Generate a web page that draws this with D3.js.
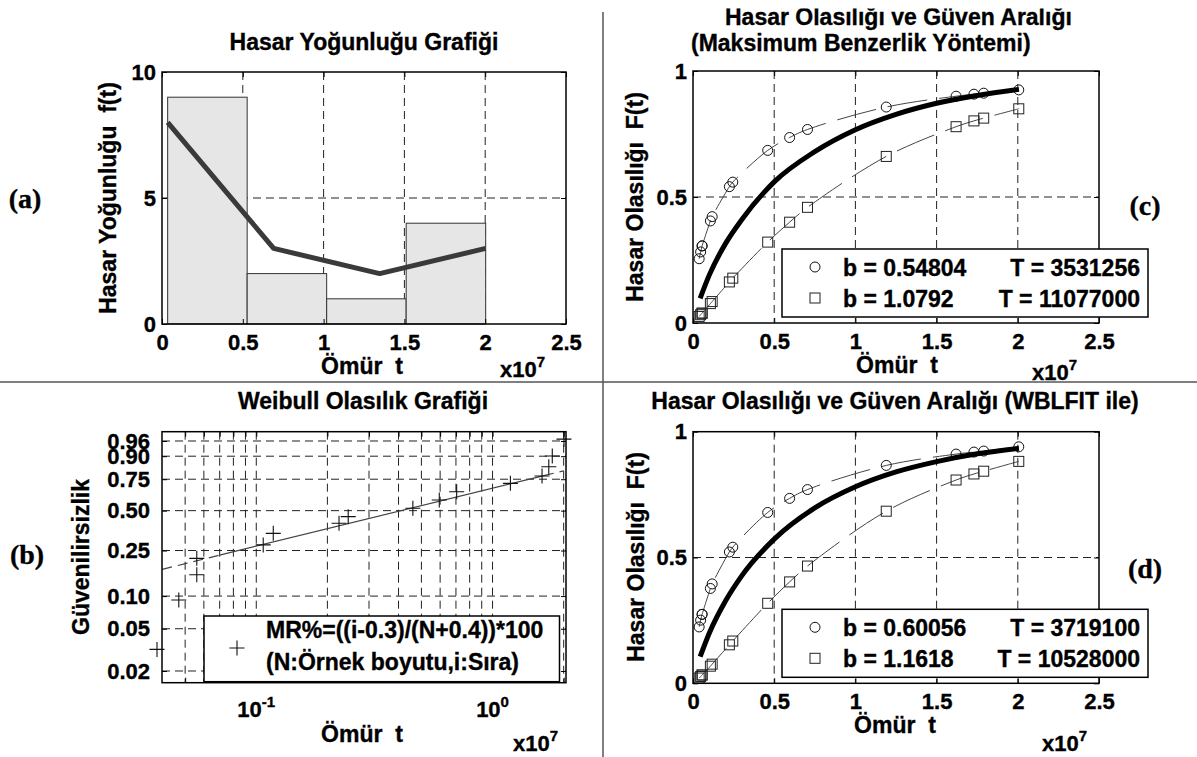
<!DOCTYPE html>
<html lang="tr">
<head>
<meta charset="utf-8">
<title>Hasar analizi</title>
<script src="https://cdnjs.cloudflare.com/ajax/libs/d3/7.8.5/d3.min.js"></script>
<style>
  body { margin: 0; background: #fff; }
  svg text {
    font-family: "Liberation Sans", Arial, Helvetica, sans-serif;
    font-weight: bold;
    fill: #000;
    stroke: #000;
    stroke-width: 0.35px;
  }
  .grid { stroke: #222; stroke-width: 1; stroke-dasharray: 8,5; fill: none; }
  .frame { fill: none; stroke: #000; stroke-width: 1.5; }
  .plabel { font-family: "Liberation Serif", "Times New Roman", serif !important; font-size: 28px; }
  .sep { stroke: #555; stroke-width: 1.5; }
</style>
</head>
<body>
<svg id="chart" width="1197" height="757"></svg>
<script>
// ---- data (times in units of 1e7) ----
var xTicks = [0, 0.5, 1, 1.5, 2, 2.5];
var xTickLabels = ["0", "0.5", "1", "1.5", "2", "2.5"];

// (a) histogram + density polyline
var histEdges = [0.035, 0.527, 1.019, 1.511, 2.003];
var histCounts = [9, 2, 1, 4];
var densX = [0.035, 0.691, 1.347, 2.003];
var densY = [8, 3, 2, 3];
var yTicksA = [0, 5, 10];

// sorted failure times
var failTimes = [0.038, 0.047, 0.056, 0.056, 0.107, 0.118, 0.224, 0.245, 0.46, 0.595, 0.705, 1.19, 1.62, 1.73, 1.79, 2.006];

// (b) weibull probability plot
var medianRanks = [0.032, 0.092, 0.155, 0.215, 0.278, 0.343, 0.408, 0.455, 0.518, 0.584, 0.651, 0.718, 0.774, 0.839, 0.901, 0.965];
var fitLineT = [0.04, 0.07, 1.65, 2.0];
var fitLineF = [0.173, 0.229, 0.777, 0.811];
var yTicksB = [0.02, 0.05, 0.10, 0.25, 0.50, 0.75, 0.90, 0.96];
var yTickLabelsB = ["0.02", "0.05", "0.10", "0.25", "0.50", "0.75", "0.90", "0.96"];
var xMinorB = [0.05, 0.06, 0.07, 0.08, 0.09, 0.2, 0.3, 0.4, 0.5, 0.6, 0.7, 0.8, 0.9, 2];
var xMajorB = [0.1, 1];
var xMajorLabelsB = [["10", "-1"], ["10", "0"]];

// (c) maximum likelihood
var fitT = [0.044, 0.1, 0.2, 0.3, 0.5, 0.75, 1.0, 1.25, 1.5, 1.75, 2.007];
var fitC = [0.098, 0.19, 0.315, 0.41, 0.56, 0.68, 0.767, 0.828, 0.872, 0.903, 0.927];
var upperC = [0.255, 0.282, 0.306, 0.306, 0.405, 0.422, 0.541, 0.559, 0.685, 0.736, 0.768, 0.857, 0.900, 0.908, 0.912, 0.925];
var lowerC = [0.026, 0.033, 0.039, 0.039, 0.077, 0.085, 0.163, 0.178, 0.321, 0.400, 0.459, 0.661, 0.779, 0.802, 0.813, 0.850];
var legendC = [["b = 0.54804", "T = 3531256"], ["b = 1.0792", "T = 11077000"]];

// (d) wblfit
var fitD = [0.106, 0.199, 0.327, 0.427, 0.573, 0.697, 0.781, 0.840, 0.881, 0.912, 0.934];
var upperD = [0.224, 0.251, 0.274, 0.274, 0.377, 0.395, 0.522, 0.541, 0.679, 0.735, 0.770, 0.866, 0.911, 0.919, 0.923, 0.940];
var lowerD = [0.021, 0.027, 0.033, 0.033, 0.068, 0.076, 0.153, 0.168, 0.318, 0.403, 0.466, 0.684, 0.808, 0.832, 0.843, 0.882];
var legendD = [["b = 0.60056", "T = 3719100"], ["b = 1.1618", "T = 10528000"]];
var yTicksCD = [0, 0.5, 1];

// ---- layout ----
var boxA = {x0: 162, x1: 566, y0: 72, y1: 324};
var boxB = {x0: 162, x1: 566, y0: 431.7, y1: 682.7};
var boxC = {x0: 693, x1: 1099, y0: 71, y1: 323};
var boxD = {x0: 693, x1: 1099, y0: 431.7, y1: 683.3};

var svg = d3.select("#chart");
svg.append("rect").attr("width", 1197).attr("height", 757).attr("fill", "#fff");

// separators
svg.append("line").attr("class", "sep").attr("x1", 603).attr("x2", 603).attr("y1", 12).attr("y2", 757);
svg.append("line").attr("class", "sep").attr("x1", 0).attr("x2", 1197).attr("y1", 382).attr("y2", 382);

function addText(x, y, str, size, anchor) {
  return svg.append("text").attr("x", x).attr("y", y)
    .attr("text-anchor", anchor || "middle")
    .style("font-size", size + "px").style("white-space", "pre").text(str);
}
function addYLabel(x, y, str) {
  return svg.append("text").attr("transform", "translate(" + x + "," + y + ") rotate(-90)")
    .attr("text-anchor", "middle").style("font-size", "23px").style("white-space", "pre").text(str);
}
function addExp(x, y, base, sup, anchor) {
  var t = svg.append("text").attr("x", x).attr("y", y)
    .attr("text-anchor", anchor || "start").style("font-size", "22px");
  t.append("tspan").text(base);
  t.append("tspan").attr("dy", -10).style("font-size", "15px").text(sup);
  return t;
}
function styleAxis(sel) {
  sel.select(".domain").remove();
  sel.selectAll(".tick line").attr("stroke", "#000");
  sel.selectAll("text").style("font-size", "22px");
}
function boxAxes(b, x, y, xt, yt, xf, yf, xpad, ypad) {
  svg.append("g").attr("transform", "translate(0," + b.y1 + ")")
    .call(d3.axisBottom(x).tickValues(xt).tickFormat(xf).tickSizeInner(-5).tickSizeOuter(0).tickPadding(xpad))
    .call(styleAxis);
  svg.append("g").attr("transform", "translate(0," + b.y0 + ")")
    .call(d3.axisTop(x).tickValues(xt).tickFormat("").tickSizeInner(-5).tickSizeOuter(0))
    .call(styleAxis);
  svg.append("g").attr("transform", "translate(" + b.x0 + ",0)")
    .call(d3.axisLeft(y).tickValues(yt).tickFormat(yf).tickSizeInner(-5).tickSizeOuter(0).tickPadding(ypad))
    .call(styleAxis);
  svg.append("g").attr("transform", "translate(" + b.x1 + ",0)")
    .call(d3.axisRight(y).tickValues(yt).tickFormat("").tickSizeInner(-5).tickSizeOuter(0))
    .call(styleAxis);
}
function frame(b) {
  svg.append("rect").attr("class", "frame").attr("x", b.x0).attr("y", b.y0)
    .attr("width", b.x1 - b.x0).attr("height", b.y1 - b.y0);
}
function vgrid(b, x, vals) {
  svg.append("g").selectAll("line").data(vals).enter().append("line").attr("class", "grid")
    .attr("x1", function(d) { return x(d); }).attr("x2", function(d) { return x(d); })
    .attr("y1", b.y0).attr("y2", b.y1);
}
function hgrid(b, y, vals) {
  svg.append("g").selectAll("line").data(vals).enter().append("line").attr("class", "grid")
    .attr("y1", function(d) { return y(d); }).attr("y2", function(d) { return y(d); })
    .attr("x1", b.x0).attr("x2", b.x1);
}

// ================= (a) =================
var xA = d3.scaleLinear().domain([0, 2.5]).range([boxA.x0, boxA.x1]);
var yA = d3.scaleLinear().domain([0, 10]).range([boxA.y1, boxA.y0]);

vgrid(boxA, xA, [0.5, 1, 1.5, 2]);
hgrid(boxA, yA, [5]);

svg.append("g").selectAll("rect").data(histCounts).enter().append("rect")
  .attr("x", function(d, i) { return xA(histEdges[i]); })
  .attr("width", function(d, i) { return xA(histEdges[i + 1]) - xA(histEdges[i]); })
  .attr("y", function(d) { return yA(d); })
  .attr("height", function(d) { return yA(0) - yA(d); })
  .attr("fill", "#e6e6e6").attr("stroke", "#333").attr("stroke-width", 1);

svg.append("path").datum(densY)
  .attr("d", d3.line().x(function(d, i) { return xA(densX[i]); }).y(function(d) { return yA(d); }))
  .attr("fill", "none").attr("stroke", "#3a3a3a").attr("stroke-width", 5).attr("stroke-linejoin", "round");

boxAxes(boxA, xA, yA, xTicks, yTicksA, function(d, i) { return xTickLabels[i]; }, function(d) { return d; }, 10, 6);
frame(boxA);

addText(364, 50, "Hasar Yoğunluğu Grafiği", 23);
addYLabel(116, 198, "Hasar Yoğunluğu  f(t)");
addText(362, 374, "Ömür  t", 23);
addExp(500, 377, "x10", "7");
addText(25, 208, "(a)", 28).attr("class", "plabel");

// ================= (b) =================
var xB = d3.scaleLog().domain([0.0399, 2.046]).range([boxB.x0, boxB.x1]);
var wB = d3.scaleLinear().domain([-4.16, 1.374]).range([boxB.y1, boxB.y0]);
function wbl(F) { return Math.log(-Math.log(1 - F)); }
function yB(F) { return wB(wbl(F)); }

vgrid(boxB, xB, xMinorB.concat(xMajorB));
svg.append("g").selectAll("line").data(yTicksB).enter().append("line").attr("class", "grid")
  .attr("y1", function(d) { return yB(d); }).attr("y2", function(d) { return yB(d); })
  .attr("x1", boxB.x0).attr("x2", boxB.x1);

// fitted line: dashed tails, solid middle
var fitPts = fitLineF.map(function(f, i) { return [xB(fitLineT[i]), yB(f)]; });
svg.append("path").attr("d", d3.line()([fitPts[0], fitPts[1]]))
  .attr("stroke", "#444").attr("stroke-width", 1.2).attr("stroke-dasharray", "10,6").attr("fill", "none");
svg.append("path").attr("d", d3.line()([fitPts[1], fitPts[2]]))
  .attr("stroke", "#444").attr("stroke-width", 1.2).attr("fill", "none");
svg.append("path").attr("d", d3.line()([fitPts[2], fitPts[3]]))
  .attr("stroke", "#444").attr("stroke-width", 1.2).attr("stroke-dasharray", "10,6").attr("fill", "none");

function plus(g, cx, cy) {
  g.append("path").attr("d", "M" + (cx - 7.5) + "," + cy + "H" + (cx + 7.5) + "M" + cx + "," + (cy - 7.5) + "V" + (cy + 7.5))
    .attr("stroke", "#111").attr("stroke-width", 1.1).attr("fill", "none");
}
var gB = svg.append("g");
medianRanks.forEach(function(f, i) { plus(gB, xB(failTimes[i]), yB(f)); });

boxAxes(boxB, xB, wB, xMinorB.concat(xMajorB), yTicksB.map(wbl), "", function(d, i) { return yTickLabelsB[i]; }, 10, 12);
xMajorB.forEach(function(v, i) {
  addExp(xB(v), 716.7, xMajorLabelsB[i][0], xMajorLabelsB[i][1], "middle");
});

// legend (b)
svg.append("rect").attr("x", 204).attr("y", 616).attr("width", 355.5).attr("height", 65.7)
  .attr("fill", "#fff").attr("stroke", "#000").attr("stroke-width", 1.5);
plus(svg, 237, 648);
addText(266, 638, "MR%=((i-0.3)/(N+0.4))*100", 23, "start");
addText(266, 670, "(N:Örnek boyutu,i:Sıra)", 23, "start");

frame(boxB);
addText(363, 409, "Weibull Olasılık Grafiği", 23);
addYLabel(89, 557, "Güvenilirsizlik");
addText(362, 742, "Ömür  t", 23);
addExp(513, 751, "x10", "7");
addText(27, 564, "(b)", 28).attr("class", "plabel");

// ================= (c) & (d) =================
function probPanel(b, fit, upper, lower, legend) {
  var x = d3.scaleLinear().domain([0, 2.5]).range([b.x0, b.x1]);
  var y = d3.scaleLinear().domain([0, 1]).range([b.y1, b.y0]);
  vgrid(b, x, [0.5, 1, 1.5, 2]);
  hgrid(b, y, [0.5]);

  var thin = d3.line().x(function(d, i) { return x(failTimes[i]); }).y(function(d) { return y(d); })
    .curve(d3.curveCatmullRom.alpha(0.5));
  [upper, lower].forEach(function(s) {
    svg.append("path").datum(s).attr("d", thin)
      .attr("fill", "none").attr("stroke", "#444").attr("stroke-width", 1).attr("stroke-dasharray", "40,12");
  });
  var g = svg.append("g");
  g.selectAll("circle").data(upper).enter().append("circle")
    .attr("cx", function(d, i) { return x(failTimes[i]); }).attr("cy", function(d) { return y(d); })
    .attr("r", 5).attr("fill", "none").attr("stroke", "#111").attr("stroke-width", 1);
  g.selectAll("rect").data(lower).enter().append("rect")
    .attr("x", function(d, i) { return x(failTimes[i]) - 5; }).attr("y", function(d) { return y(d) - 5; })
    .attr("width", 10).attr("height", 10).attr("fill", "none").attr("stroke", "#222").attr("stroke-width", 1);

  svg.append("path").datum(fit)
    .attr("d", d3.line().x(function(d, i) { return x(fitT[i]); }).y(function(d) { return y(d); }).curve(d3.curveMonotoneX))
    .attr("fill", "none").attr("stroke", "#000").attr("stroke-width", 5);

  boxAxes(b, x, y, xTicks, yTicksCD, function(d, i) { return xTickLabels[i]; }, function(d) { return d; }, 10, 6);
  frame(b);

  // legend
  var ly = b.y1 - 74;
  svg.append("rect").attr("x", 782).attr("y", ly).attr("width", 366).attr("height", 68)
    .attr("fill", "#fff").attr("stroke", "#000").attr("stroke-width", 1.5);
  svg.append("circle").attr("cx", 815).attr("cy", ly + 18).attr("r", 5)
    .attr("fill", "none").attr("stroke", "#111").attr("stroke-width", 1);
  svg.append("rect").attr("x", 810).attr("y", ly + 44).attr("width", 10).attr("height", 10)
    .attr("fill", "none").attr("stroke", "#222").attr("stroke-width", 1);
  legend.forEach(function(row, i) {
    addText(843, ly + 27 + i * 31, row[0], 23, "start");
    addText(1140, ly + 27 + i * 31, row[1], 23, "end");
  });
}

probPanel(boxC, fitC, upperC, lowerC, legendC);
svg.append("clipPath").attr("id", "topclip").append("rect")
  .attr("x", 600).attr("y", 8.5).attr("width", 597).attr("height", 60);
addText(725, 25, "Hasar Olasılığı ve Güven Aralığı", 23, "start").attr("clip-path", "url(#topclip)");
addText(691, 51, "(Maksimum Benzerlik Yöntemi)", 23, "start");
addYLabel(643, 197, "Hasar Olasılığı  F(t)");
addText(897, 373, "Ömür  t", 23);
addExp(1032, 380, "x10", "7");
addText(1145, 215, "(c)", 28).attr("class", "plabel");

probPanel(boxD, fitD, upperD, lowerD, legendD);
addText(895, 409, "Hasar Olasılığı ve Güven Aralığı (WBLFIT ile)", 23);
addYLabel(644, 557, "Hasar Olasılığı  F(t)");
addText(895, 733, "Ömür  t", 23);
addExp(1042, 751, "x10", "7");
addText(1145, 578, "(d)", 28).attr("class", "plabel");
</script>
</body>
</html>
